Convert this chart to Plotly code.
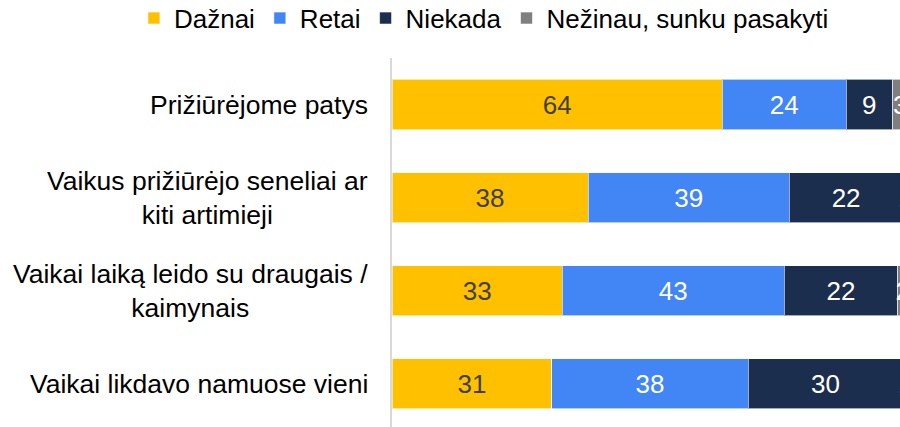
import plotly.graph_objects as go

categories = [
    "Prižiūrėjome patys",
    "Vaikus prižiūrėjo seneliai ar<br>kiti artimieji",
    "Vaikai laiką leido su draugais /<br>kaimynais",
    "Vaikai likdavo namuose vieni",
]
series_names = ["Dažnai", "Retai", "Niekada", "Nežinau, sunku pasakyti"]
dazniai = [64, 38, 33, 31]
retai = [24, 39, 43, 38]
niekada = [9, 22, 22, 30]
nezinau = [3, 1, 2, 1]

series_values = [dazniai, retai, niekada, nezinau]
colors = ["#FFC000", "#4285F4", "#1B2E4E", "#7F7F7F"]
text_colors = ["#404040", "#FFFFFF", "#FFFFFF", "#FFFFFF"]

FONT = "Liberation Sans, Arial, sans-serif"

fig = go.Figure()
for name, vals, col, tcol in zip(series_names, series_values, colors, text_colors):
    fig.add_trace(go.Bar(
        y=categories, x=vals, name=name, orientation="h",
        marker=dict(color=col, line=dict(color="rgba(255,255,255,0.6)", width=1)),
        text=[str(v) for v in vals], textposition="inside",
        insidetextanchor="middle", constraintext="none",
        textfont=dict(color=tcol, size=26, family=FONT),
        cliponaxis=True, hoverinfo="skip",
    ))

for c in categories:
    fig.add_annotation(
        x=0, xref="paper", xanchor="right", xshift=-22,
        y=c, yref="y", text=c, showarrow=False, align="center",
        font=dict(size=26.5, color="#000000", family=FONT),
    )

fig.update_layout(
    width=900, height=427,
    barmode="stack", bargap=0.462,
    plot_bgcolor="white", paper_bgcolor="white",
    margin=dict(l=392, r=0, t=58, b=0, autoexpand=False),
    font=dict(family=FONT, color="#000000"),
    legend=dict(
        orientation="h", xref="paper", yref="paper",
        x=-0.508, xanchor="left", y=1.108, yanchor="middle",
        font=dict(size=26, color="#000000", family=FONT),
        bgcolor="rgba(0,0,0,0)",
        traceorder="normal", itemwidth=30, tracegroupgap=0,
    ),
    xaxis=dict(range=[0, 98.45], showgrid=False, zeroline=False,
               showticklabels=False, showline=False, fixedrange=True,
               automargin=False),
    yaxis=dict(type="category", categoryorder="array", categoryarray=categories,
               range=[3.467, -0.5], showgrid=False, zeroline=False,
               showticklabels=False, showline=True, linecolor="#D9D9D9",
               linewidth=2, ticks="", automargin=False),
)

fig.write_html(
    "out.html",
    config={"displayModeBar": False},
    post_script="document.body.style.margin='0';document.body.style.overflow='hidden';",
)
